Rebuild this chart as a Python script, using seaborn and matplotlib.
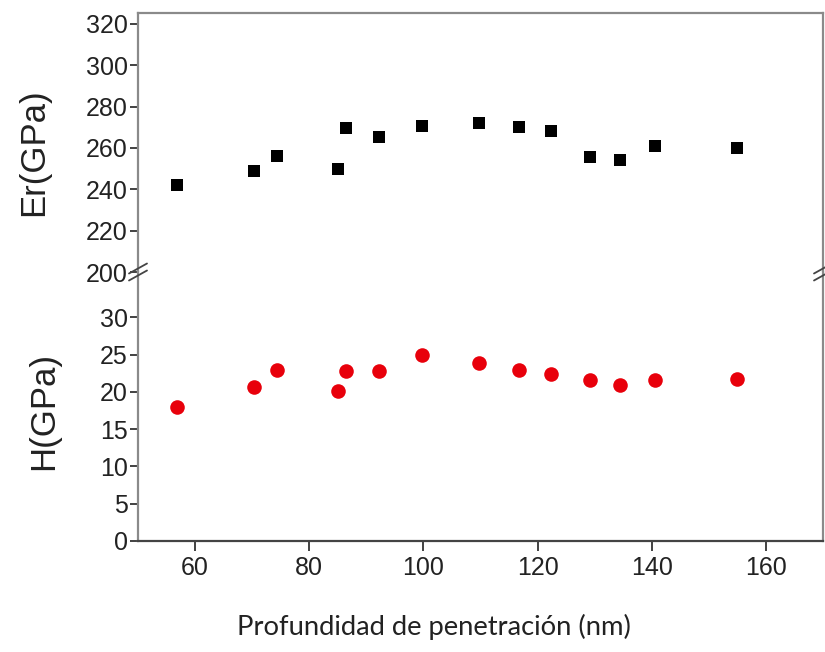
import matplotlib
matplotlib.use("Agg")
import matplotlib.pyplot as plt
import seaborn as sns
import pandas as pd

depth = [56.9, 70.4, 74.4, 85.1, 86.5, 92.3, 99.8, 109.8, 116.8, 122.3, 129.1, 134.4, 140.6, 154.9]
er_gpa = [242.1, 249.0, 256.2, 249.7, 269.6, 265.5, 270.7, 272.3, 270.0, 268.4, 255.5, 254.2, 261.0, 260.2]
h_gpa = [18.0, 20.7, 22.95, 20.1, 22.8, 22.8, 24.9, 23.9, 22.9, 22.4, 21.6, 20.9, 21.6, 21.7]
er_ticks = [200, 220, 240, 260, 280, 300, 320]
h_ticks = [0, 5, 10, 15, 20, 25, 30]
x_ticks = [60, 80, 100, 120, 140, 160]

df = pd.DataFrame({"depth": depth, "Er": er_gpa, "H": h_gpa})

sns.set_style("white")
plt.rcParams["font.family"] = ["Liberation Sans", "DejaVu Sans"]

W, H = 825, 652
fig = plt.figure(figsize=(W / 100, H / 100), dpi=100)
left, right = 138 / W, 823 / W
ax_top = fig.add_axes([left, 1 - 272 / H, right - left, (272 - 13) / H])
ax_bot = fig.add_axes([left, 1 - 541 / H, right - left, (541 - 272) / H])

sns.scatterplot(data=df, x="depth", y="Er", ax=ax_top, marker="s", color="black",
                s=85, linewidth=0, zorder=3)
sns.scatterplot(data=df, x="depth", y="H", ax=ax_bot, marker="o", color="#e8000b",
                s=110, linewidth=0, zorder=3)

ax_top.set_xlim(50, 170)
ax_bot.set_xlim(50, 170)
ax_top.set_ylim(200, 325.3)
ax_bot.set_ylim(0, 36.1)

ax_top.set_yticks(er_ticks)
ax_bot.set_yticks(h_ticks)
ax_bot.set_xticks(x_ticks)
ax_top.set_xticks([])

spine_gray = "#8a8a8a"
for ax in (ax_top, ax_bot):
    for s in ax.spines.values():
        s.set_color(spine_gray)
        s.set_linewidth(1.6)
    ax.tick_params(axis="both", which="major", direction="out", length=6,
                   width=1.3, color="#333333", labelsize=18, labelcolor="#222222", pad=1.5)
    ax.set_xlabel("")
    ax.set_ylabel("")
    for lab in ax.get_xticklabels() + ax.get_yticklabels():
        lab.set_family(["Liberation Sans", "DejaVu Sans"])

ax_top.spines["bottom"].set_visible(False)
ax_bot.spines["top"].set_visible(False)
ax_bot.spines["bottom"].set_color("#444444")
ax_bot.tick_params(axis="y", left=True)
ax_top.tick_params(axis="y", left=True)
ax_bot.tick_params(axis="x", bottom=True, length=7, pad=4)

ax_top.set_ylabel("Er(GPa)", fontsize=25, color="#222222")
ax_bot.set_ylabel("H(GPa)", fontsize=25, color="#222222")
ax_top.yaxis.set_label_coords((50 - 138) / 685, 0.463)
ax_bot.yaxis.set_label_coords((60 - 138) / 685, 0.483)

# break marks
y_break = 1 - 272 / H
for xb in (left, right):
    for dy in (-3.5, 3.5):
        x0, x1 = xb - 9 / W, xb + 9 / W
        y0, y1 = y_break + (dy - 5) / H, y_break + (dy + 5) / H
        fig.add_artist(plt.Line2D([x0, x1], [y0, y1], color="#444444", lw=1.3))

fig.text(434 / W, 1 - 627 / H, "Profundidad de penetración (nm)", ha="center", va="center",
         fontsize=19.7, family=["Lato", "DejaVu Sans"], color="#222222")

fig.savefig("out.png", dpi=100)
